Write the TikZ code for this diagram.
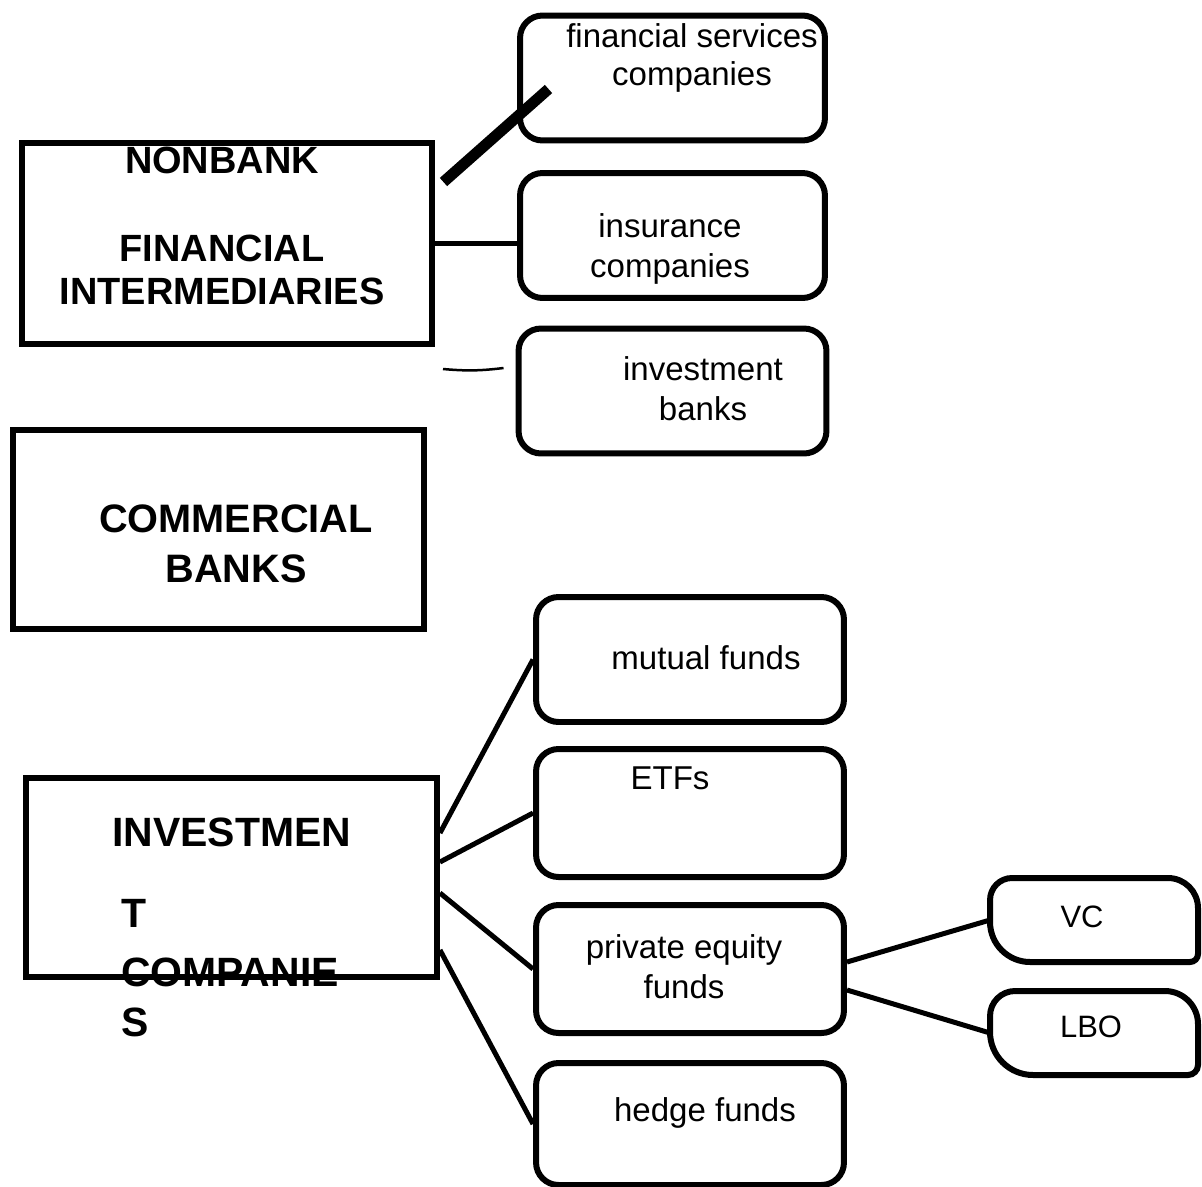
\documentclass[tikz,border=0pt]{standalone}
\usepackage{fontspec}
\setmainfont{Liberation Sans}
\usetikzlibrary{positioning}

% outline with a different radius at each corner: node, tl, tr, br, bl
\newcommand{\lopsided}[5]{%
  \draw[boxline] ([xshift=#2]#1.north west) -- ([xshift=-#3]#1.north east)
    arc[start angle=90, end angle=0, radius=#3] -- ([yshift=#4]#1.south east)
    arc[start angle=0, end angle=-90, radius=#4] -- ([xshift=#5]#1.south west)
    arc[start angle=-90, end angle=-180, radius=#5] -- ([yshift=-#2]#1.north west)
    arc[start angle=180, end angle=90, radius=#2] -- cycle;}

\begin{document}
\begin{tikzpicture}[x=0.02cm, y=-0.02cm,
box/.style={rectangle, draw, line width=0.12cm, minimum width=8.22cm, minimum height=3.98cm, inner sep=0pt},
pill/.style={rectangle, draw, rounded corners=0.45cm, line width=0.12cm, minimum width=6.16cm, minimum height=2.5cm, inner sep=0pt},
tab/.style={rectangle, outer sep=0pt, minimum width=4.16cm, minimum height=1.68cm, inner sep=0pt},
boxline/.style={line width=0.12cm},
link/.style={line width=0.1cm},
big/.style={anchor=north, inner sep=0pt, align=center},
small/.style={anchor=north, inner sep=0pt, align=center, font=\fontsize{18.8}{22}\selectfont}]

\useasboundingbox (0,0) rectangle (1202,1186);

\node (nfi) [box, minimum height=4.04cm] at (227,243.5) {};
\node (cb) [box] at (218.5,529.5) {};
\node (ic) [box] at (231.5,877.5) {};

\node (fsc) [pill, minimum width=6.1cm] at (672.5,78) {};
\node (ins) [pill, minimum width=6.1cm] at (672.5,235.5) {};
\node (inv) [pill] at (672.5,391) {};
\node (mf) [pill] at (690,659.5) {};
\node (etf) [pill, minimum height=2.56cm] at (690,813) {};
\node (pe) [pill, minimum height=2.56cm] at (690,969) {};
\node (hf) [pill, minimum height=2.44cm] at (690,1124) {};

\node (vc) [tab] at (1094,920) {};
\node (lbo) [tab] at (1094,1033) {};
\lopsided{vc}{0.44cm}{0.6cm}{0.16cm}{0.8cm}
\lopsided{lbo}{0.5cm}{0.66cm}{0.2cm}{0.86cm}

%box texts
\node (nfi-t) [big, font=\bfseries\fontsize{21.6}{24.5}\selectfont] at (222,146.8) {NONBANK\\[25.6pt]FINANCIAL\\INTERMEDIARIES};
\node (cb-t) [big, font=\bfseries\fontsize{22.6}{28.45}\selectfont] at (236,504.6) {COMMERCIAL\\BANKS};
\node (ic-t) [big, anchor=north west, align=left, font=\bfseries\fontsize{23.3}{28.45}\selectfont] at (112,817.6) {INVESTMEN\\[17.6pt]\hspace*{5pt}T\\[5.1pt]\hspace*{5pt}COMPANIE\\\hspace*{5pt}S};

\node (fsc-t) [small] at (692,23) {financial services\\[-0.5pt]companies};
\node (ins-t) [small] at (670,213.4) {insurance\\[0.8pt]companies};
\node (inv-t) [small] at (703,356.4) {investment\\[0.8pt]banks};
\node (mf-t) [small] at (706,645) {mutual funds};
\node (etf-t) [small] at (670,766) {ETFs};
\node (pe-t) [small] at (684,934) {private equity\\[1pt]funds};
\node (hf-t) [small] at (705,1097) {hedge funds};
\node (vc-t) [small, font=\fontsize{17.6}{20}\selectfont] at (1082,905.8) {VC};
\node (lbo-t) [small, font=\fontsize{17.6}{20}\selectfont] at (1091,1015.8) {LBO};

%links
\coordinate (fsctip) at (548.5,89);
\draw[line width=0.22cm] ([shift={(0.16cm,1.23cm)}]nfi.east) -- (fsctip);
\draw[link] (nfi.east) -- (nfi.east -| ins.west);
\coordinate (invstub) at (443,369);
\draw[line width=0.05cm] (invstub) to[bend right=6] ([shift={(-0.24cm,0.46cm)}]inv.west);

\foreach \tgt/\dy in {mf/0.89, etf/0.31, pe/-0.31, hf/-1.45}
{
\draw[link] ([yshift=\dy cm]ic.east) -- (\tgt.west);
}
\draw[link] ([yshift=0.14cm]pe.east) -- (vc.west);
\draw[link] ([yshift=-0.42cm]pe.east) -- (lbo.west);

\end{tikzpicture}
\end{document}
